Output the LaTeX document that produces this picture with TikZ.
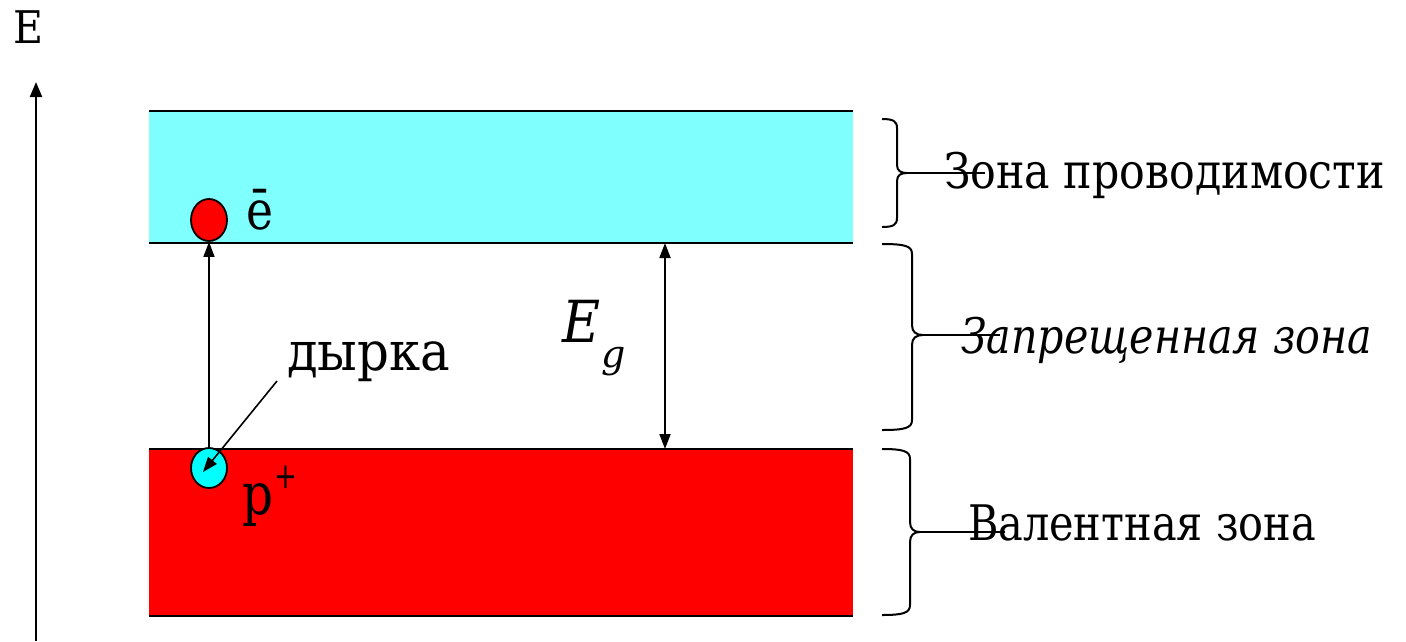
\documentclass[tikz,border=0pt]{standalone}
\usepackage{graphicx}
\usepackage{fontspec}
\setmainfont{DejaVu Serif}
\usetikzlibrary{arrows.meta,shapes.geometric}
\definecolor{cbcyan}{HTML}{80FFFF}
\definecolor{holecyan}{HTML}{00FFFF}
\definecolor{bandred}{HTML}{FF0000}
\newcommand\myfs[1]{\fontsize{#1}{#1}\selectfont}
\newcommand\fitw[2]{\resizebox{#1}{\height}{#2}}
\tikzset{
  bandbox/.style={draw=none,inner sep=0pt,outer sep=0pt,minimum width=704pt},
  bandline/.style={line width=2.2pt},
  particle/.style={draw,ellipse,inner sep=0pt,line width=1.8pt,minimum width=36pt},
  headtip/.tip={Triangle[length=15pt,width=11pt]},
  thinarrow/.style={line width=1.6pt,-headtip},
  botharrow/.style={line width=1.8pt,headtip-headtip},
  txt/.style={anchor=base west,inner sep=0pt,outer sep=0pt},
  bracepath/.style={line width=2pt,line join=round},
  braceline/.style={line width=1.3pt},
}
\begin{document}
\begin{tikzpicture}[x=1pt,y=-1pt]
\useasboundingbox (0,0) rectangle (1406,641);
% bands
\node[bandbox,fill=cbcyan,minimum height=132pt] (cb) at (501,177) {};
\node[bandbox,fill=bandred,minimum height=167pt] (vb) at (501,532.5) {};
\draw[bandline] (cb.north west) -- (cb.north east);
\draw[bandline] (cb.south west) -- (cb.south east);
\draw[bandline] (vb.north west) -- (vb.north east);
\draw[bandline] (vb.south west) -- (vb.south east);
% energy axis
\coordinate (axb) at (36,641);
\coordinate (axt) at (36,82);
\draw[line width=2.4pt,-{Triangle[length=15pt,width=12pt]}] (axb) -- (axt);
\node[txt,font=\myfs{45}] (elabel) at (13,43) {\fitw{30pt}{E}};
% particles
\node[particle,fill=holecyan,minimum height=40pt] (hole) at (209,468) {};
\node[particle,fill=bandred,minimum height=42pt] (el) at (209,220) {};
\draw[thinarrow] (hole.north) -- (el.south);
\node[txt,font=\myfs{54}] (elab) at (246,229) {\fitw{27pt}{ē}};
\node[txt,font=\myfs{58}] (plab) at (242,514) {\fitw{31pt}{p}\hspace{1pt}\raisebox{26pt}{\myfs{36}\fitw{23pt}{+}}};
% hole label
\node[txt,font=\myfs{54}] (dyrka) at (287,370) {\fitw{163pt}{дырка}};
\coordinate (dstart) at (277,381);
\coordinate (dtip) at (203,472);
\draw[thinarrow] (dstart) -- (dtip);
% band gap
\coordinate (egt) at (665,243);
\coordinate (egb) at (665,449);
\draw[botharrow] (egt) -- (egb);
\node[txt,font=\myfs{58}\itshape] (eg) at (562,342) {\fitw{38pt}{E}\hspace{1pt}\raisebox{-25pt}{\myfs{38}g}};
% braces
\draw[bracepath] (882,119) .. controls (893,119) and (897,121) .. (897,128) -- (897,165)
  .. controls (897,171) and (901,173) .. (907,173)
  .. controls (901,173) and (897,175) .. (897,181) -- (897,218)
  .. controls (897,225) and (893,227) .. (882,227);
\coordinate (b1tip) at (907,173);
\coordinate (b1end) at (985,173);
\draw[braceline] (b1tip) -- (b1end);
\draw[bracepath] (882,244) .. controls (905,244) and (912,246) .. (912,254) -- (912,325)
  .. controls (912,332) and (916,335) .. (923,335)
  .. controls (916,335) and (912,338) .. (912,345) -- (912,420)
  .. controls (912,428) and (905,430) .. (882,430);
\coordinate (b2tip) at (923,335);
\coordinate (b2end) at (1000,335);
\draw[braceline] (b2tip) -- (b2end);
\draw[bracepath] (882,449) .. controls (903,449) and (910,451) .. (910,459) -- (910,522)
  .. controls (910,529) and (914,532) .. (920,532)
  .. controls (914,532) and (910,535) .. (910,542) -- (910,605)
  .. controls (910,613) and (903,615) .. (882,615);
\coordinate (b3tip) at (920,532);
\coordinate (b3end) at (1005,532);
\draw[braceline] (b3tip) -- (b3end);
% zone labels
\node[txt,font=\myfs{49}] (z1) at (944,188) {\fitw{441pt}{Зона проводимости}};
\node[txt,font=\myfs{49}\itshape] (z2) at (961,353) {\fitw{411pt}{Запрещенная зона}};
\node[txt,font=\myfs{49}] (z3) at (968,540) {\fitw{348pt}{Валентная зона}};
\end{tikzpicture}
\end{document}
